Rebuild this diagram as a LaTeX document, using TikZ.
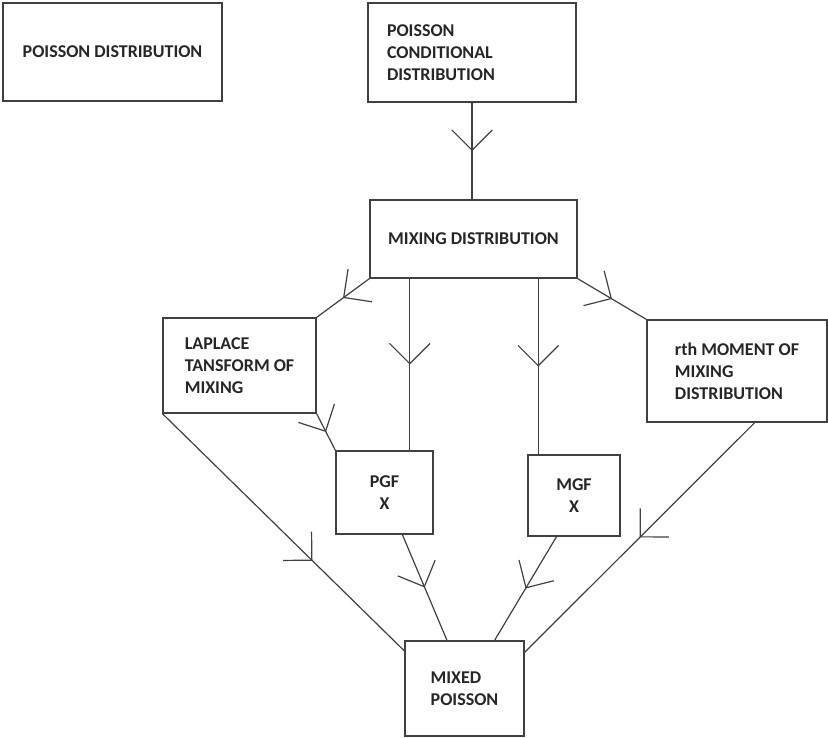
\documentclass[tikz,border=0pt]{standalone}
\usepackage{fontspec}
\setmainfont{Carlito}
\usetikzlibrary{arrows.meta}
\usetikzlibrary{decorations.markings}

\begin{document}
\begin{tikzpicture}[x=1pt, y=-1pt, line width=1.2pt, color=black!75,
  font=\fontsize{18}{22}\selectfont\bfseries,
  box/.style={draw, rectangle, inner sep=0pt, align=left, text=black!85},
  flow/.style={postaction={decorate}, decoration={markings,
    mark=at position #1 with {\arrow{Straight Barb[length=15pt,width=30pt,scale=1.35]}}}},
  flow/.default=0.5]
\useasboundingbox (0,0) rectangle (828,738);
\node[box, minimum width=219pt, minimum height=98pt] (pd) at (112.5,52) {POISSON DISTRIBUTION};
\node[box, minimum height=99pt, text width=170pt, inner xsep=19pt] (pcd) at (472,52.5) {POISSON\\CONDITIONAL\\DISTRIBUTION};
\node[box, minimum width=207pt, minimum height=78pt] (mix) at (473.5,239) {MIXING DISTRIBUTION};
\node[box, minimum width=153pt, minimum height=95pt] (lap) at (239.5,365.5) {LAPLACE\\TANSFORM OF\\MIXING};
\node[box, minimum width=180pt, minimum height=102pt] (rth) at (737,371) {rth MOMENT OF\\MIXING\\DISTRIBUTION};
\node[box, align=center, minimum width=97pt, minimum height=83pt] (pgf) at (384.5,492.5) {PGF\\X};
\node[box, align=center, minimum width=92pt, minimum height=81pt] (mgf) at (574,495.5) {MGF\\X};
\node[box, minimum width=119pt, minimum height=95pt] (mp) at (464.5,688.5) {MIXED\\POISSON};

\draw[flow] (pcd.south) -- (pcd.south |- mix.north);
\draw[flow] (mix.south -| pgf.59) -- (pgf.59);
\draw[flow] (mix.south -| mgf.131) -- (mgf.131);
\foreach \a/\b in {mix.south west/lap.north east, mix.south east/rth.north west,
  lap.south east/pgf.north west, pgf.-67/mp.110, mgf.-113/mp.58, rth.-71/mp.31}
  \draw[flow] (\a) -- (\b);
\draw[flow=0.62] (lap.south west) -- (mp.148);
\end{tikzpicture}
\end{document}
